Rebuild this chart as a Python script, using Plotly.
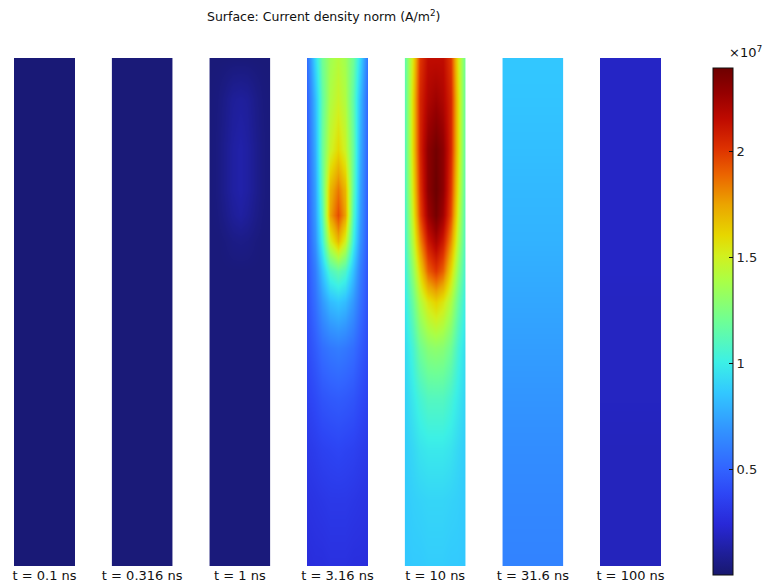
import plotly.graph_objects as go

# ---------------- data (current density norm, units of 1e7 A/m^2) ----------------
TIME_LABELS = ["t = 0.1 ns", "t = 0.316 ns", "t = 1 ns", "t = 3.16 ns",
               "t = 10 ns", "t = 31.6 ns", "t = 100 ns"]

# axial sample positions (top -> bottom), arbitrary length units
AXIAL_POS = [10, 9.2, 8.2, 7.4, 6.9, 6.4, 5.8, 5.2, 4.3, 3.3, 2.3, 1.3, 0]
# radial sample positions |r| (edge -> centre); profiles are symmetric
RADIAL_POS = [1.0, 0.75, 0.5, 0.25, 0.0]

J_0p1 = [[0.02, 0.02, 0.02, 0.02, 0.02]] * 13
J_0p316 = [[0.025, 0.025, 0.025, 0.025, 0.025]] * 13
J_1 = [
    [0.025, 0.025, 0.025, 0.025, 0.025],
    [0.03, 0.04, 0.065, 0.10, 0.11],
    [0.03, 0.045, 0.08, 0.12, 0.14],
    [0.03, 0.045, 0.08, 0.12, 0.14],
    [0.03, 0.04, 0.065, 0.10, 0.12],
    [0.03, 0.03, 0.04, 0.055, 0.06],
    [0.03, 0.03, 0.03, 0.03, 0.03],
    [0.03, 0.03, 0.03, 0.03, 0.03],
    [0.03, 0.03, 0.03, 0.03, 0.03],
    [0.03, 0.03, 0.03, 0.03, 0.03],
    [0.03, 0.03, 0.03, 0.03, 0.03],
    [0.03, 0.03, 0.03, 0.03, 0.03],
    [0.03, 0.03, 0.03, 0.03, 0.03],
]
J_3p16 = [
    [0.55, 0.92, 1.20, 1.36, 1.42],
    [0.50, 0.82, 1.15, 1.40, 1.48],
    [0.48, 0.78, 1.18, 1.48, 1.60],
    [0.46, 0.74, 1.15, 1.70, 1.85],
    [0.45, 0.72, 1.10, 1.75, 1.95],
    [0.44, 0.68, 1.02, 1.50, 1.70],
    [0.43, 0.60, 0.84, 1.08, 1.15],
    [0.42, 0.55, 0.70, 0.82, 0.86],
    [0.40, 0.47, 0.54, 0.58, 0.60],
    [0.36, 0.40, 0.44, 0.46, 0.47],
    [0.32, 0.34, 0.36, 0.37, 0.38],
    [0.29, 0.30, 0.31, 0.32, 0.32],
    [0.26, 0.27, 0.27, 0.28, 0.28],
]
J_10 = [
    [1.15, 1.55, 2.00, 2.15, 2.15],
    [1.12, 1.60, 2.05, 2.20, 2.25],
    [1.10, 1.60, 2.05, 2.30, 2.38],
    [1.08, 1.55, 2.00, 2.30, 2.40],
    [1.06, 1.50, 1.95, 2.25, 2.37],
    [1.05, 1.42, 1.80, 2.10, 2.22],
    [1.02, 1.30, 1.60, 1.90, 2.00],
    [0.98, 1.18, 1.40, 1.55, 1.62],
    [0.93, 1.05, 1.20, 1.28, 1.30],
    [0.90, 0.98, 1.05, 1.10, 1.10],
    [0.88, 0.92, 0.96, 0.98, 0.98],
    [0.87, 0.89, 0.90, 0.91, 0.91],
    [0.86, 0.87, 0.87, 0.88, 0.88],
]
J_31p6 = [
    [0.86, 0.86, 0.86, 0.86, 0.86],
    [0.85, 0.85, 0.85, 0.85, 0.85],
    [0.83, 0.83, 0.83, 0.83, 0.83],
    [0.81, 0.81, 0.81, 0.81, 0.81],
    [0.80, 0.80, 0.80, 0.80, 0.80],
    [0.79, 0.79, 0.79, 0.79, 0.79],
    [0.77, 0.77, 0.77, 0.77, 0.77],
    [0.75, 0.75, 0.75, 0.75, 0.75],
    [0.72, 0.72, 0.72, 0.72, 0.72],
    [0.69, 0.69, 0.69, 0.69, 0.69],
    [0.66, 0.66, 0.66, 0.66, 0.66],
    [0.64, 0.64, 0.64, 0.64, 0.64],
    [0.62, 0.62, 0.62, 0.62, 0.62],
]
J_100 = [
    [0.20, 0.20, 0.20, 0.20, 0.20],
    [0.20, 0.20, 0.20, 0.20, 0.20],
    [0.20, 0.20, 0.20, 0.20, 0.20],
    [0.20, 0.20, 0.20, 0.20, 0.20],
    [0.20, 0.20, 0.20, 0.20, 0.20],
    [0.20, 0.20, 0.20, 0.20, 0.20],
    [0.20, 0.20, 0.20, 0.20, 0.20],
    [0.19, 0.19, 0.19, 0.19, 0.19],
    [0.19, 0.19, 0.19, 0.19, 0.19],
    [0.19, 0.19, 0.19, 0.19, 0.19],
    [0.18, 0.18, 0.18, 0.18, 0.18],
    [0.18, 0.18, 0.18, 0.18, 0.18],
    [0.18, 0.18, 0.18, 0.18, 0.18],
]
FIELDS = [J_0p1, J_0p316, J_1, J_3p16, J_10, J_31p6, J_100]

COLORBAR_TICKS = [0.5, 1, 1.5, 2]
COLOR_MAX = 2.395

# ---------------- styling ----------------
FONT = "DejaVu Sans"
RAINBOW = [
    [0.00, "rgb(24,24,110)"], [0.04, "rgb(30,30,150)"], [0.10, "rgb(40,40,215)"],
    [0.16, "rgb(45,70,245)"], [0.21, "rgb(50,100,255)"], [0.29, "rgb(50,150,255)"],
    [0.36, "rgb(50,200,255)"], [0.42, "rgb(60,240,230)"], [0.50, "rgb(110,255,150)"],
    [0.58, "rgb(170,255,70)"], [0.63, "rgb(210,240,30)"], [0.67, "rgb(230,215,0)"],
    [0.73, "rgb(235,165,0)"], [0.79, "rgb(235,100,0)"], [0.84, "rgb(222,50,0)"],
    [0.90, "rgb(190,10,0)"], [0.95, "rgb(150,0,0)"], [1.00, "rgb(110,0,0)"],
]

# the page body has an 8px margin; size the figure to fit the 771x588 window
PAGE_OFF = 8
W, H = 771 - PAGE_OFF, 588 - PAGE_OFF
# plot area in window pixels
PLOT_L, PLOT_R, PLOT_T, PLOT_B = 14, 661, 58, 566
L, T = PLOT_L - PAGE_OFF, PLOT_T - PAGE_OFF
R, B = W - (PLOT_R - PAGE_OFF), H - (PLOT_B - PAGE_OFF)
PW, PH = PLOT_R - PLOT_L, PLOT_B - PLOT_T
STRIP_W = 61
STRIP_PITCH = (PW - STRIP_W) / 6
CB_LEFT, CB_W, CB_TOP, CB_BOT = 713, 20, 68, 575


def px_x(px):
    """window pixel x -> paper coordinate"""
    return (px - PLOT_L) / PW


def px_y(py):
    """window pixel y -> paper coordinate"""
    return (PLOT_B - py) / PH


x_full = [-r for r in RADIAL_POS] + RADIAL_POS[-2::-1]
y_asc = AXIAL_POS[::-1]

fig = go.Figure()
layout_axes = {}
for i, (field, label) in enumerate(zip(FIELDS, TIME_LABELS)):
    rows = [row + row[-2::-1] for row in field][::-1]
    xa = "x" if i == 0 else f"x{i + 1}"
    fig.add_trace(go.Heatmap(
        z=rows, x=x_full, y=y_asc, xaxis=xa, yaxis="y",
        zsmooth="best", colorscale=RAINBOW, zmin=0, zmax=COLOR_MAX,
        showscale=(i == 0), hoverinfo="skip",
        colorbar=dict(
            x=px_x(CB_LEFT), xanchor="left", xpad=0, thickness=CB_W,
            y=px_y((CB_TOP + CB_BOT) / 2), yanchor="middle",
            len=CB_BOT - CB_TOP, lenmode="pixels", ypad=0,
            outlinewidth=1, outlinecolor="#111",
            tickvals=COLORBAR_TICKS, ticktext=[f"{v:g}" for v in COLORBAR_TICKS],
            ticks="inside", ticklen=4, tickcolor="#111",
            tickfont=dict(family=FONT, size=13, color="#222"),
        ) if i == 0 else None,
    ))
    left = i * STRIP_PITCH
    key = "xaxis" if i == 0 else f"xaxis{i + 1}"
    layout_axes[key] = dict(
        domain=[max(0.0, left / PW), min(1.0, (left + STRIP_W) / PW)], range=[-1, 1],
        anchor="y", showgrid=False, zeroline=False, showline=False, ticks="",
        tickvals=[0], ticktext=[label], fixedrange=True, automargin=False,
        tickfont=dict(family=FONT, size=13, color="#111"),
    )

# tick marks on the left edge of the colour bar (mirroring the built-in right ones)
cb_shapes = []
for v in COLORBAR_TICKS:
    py = CB_BOT - v / COLOR_MAX * (CB_BOT - CB_TOP)
    cb_shapes.append(dict(type="line", xref="paper", yref="paper",
                          x0=px_x(CB_LEFT), x1=px_x(CB_LEFT + 4),
                          y0=px_y(py), y1=px_y(py),
                          line=dict(color="#111", width=1)))

fig.update_layout(
    width=W, height=H,
    margin=dict(l=L, r=R, t=T, b=B, autoexpand=False),
    paper_bgcolor="white", plot_bgcolor="white",
    yaxis=dict(range=[0, 10], domain=[0, 1], visible=False, fixedrange=True),
    showlegend=False,
    font=dict(family=FONT, size=13, color="#111"),
    shapes=cb_shapes,
    annotations=[
        dict(text="Surface: Current density norm (A/m<sup>2</sup>)",
             xref="paper", yref="paper", x=px_x(323), y=px_y(16),
             xanchor="center", yanchor="middle", showarrow=False,
             font=dict(family=FONT, size=12.5, color="#111")),
        dict(text="×10<sup>7</sup>",
             xref="paper", yref="paper", x=px_x(764), y=px_y(52),
             xanchor="right", yanchor="middle", showarrow=False,
             font=dict(family=FONT, size=13, color="#111")),
    ],
    **layout_axes,
)

fig.write_html("out.html")
